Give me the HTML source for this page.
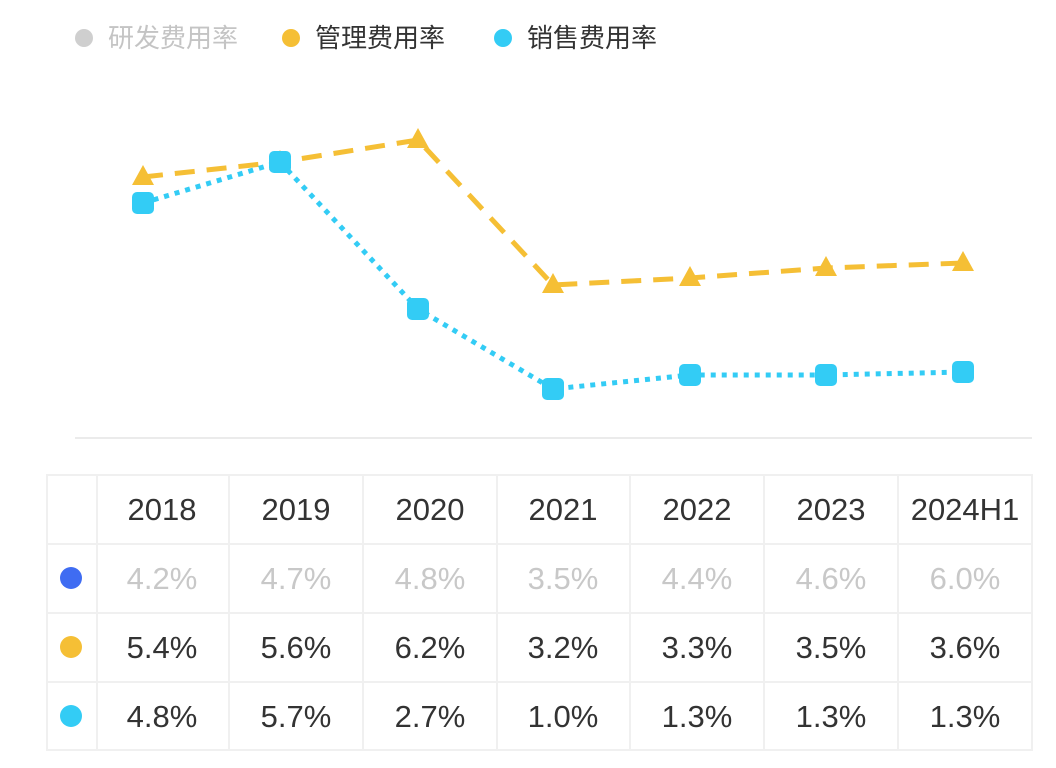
<!DOCTYPE html>
<html><head><meta charset="utf-8"><style>
body{margin:0;background:#fff;width:1056px;height:763px;overflow:hidden}
svg text{font-family:"Liberation Sans","Noto Sans CJK SC",sans-serif}
</style></head><body>
<svg width="1056" height="763" xmlns="http://www.w3.org/2000/svg">
<g font-size="26">
<circle cx="84" cy="38" r="9" fill="#cfcfcf"/><text x="108" y="47" fill="#c4c4c4">研发费用率</text>
<circle cx="291" cy="38" r="9" fill="#f5bf35"/><text x="315" y="47" fill="#333">管理费用率</text>
<circle cx="503" cy="38" r="9" fill="#33ccf5"/><text x="527" y="47" fill="#333">销售费用率</text>
</g>
<line x1="75" y1="438" x2="1032" y2="438" stroke="#ebebeb" stroke-width="2"/>
<polyline points="143,177 280,162 418,140 553,285 690,278 826,268 963,263" fill="none" stroke="#f5bf35" stroke-width="5" stroke-dasharray="20,12"/>
<polyline points="143,203 280,162 418,309 553,389 690,375 826,375 963,372" fill="none" stroke="#33ccf5" stroke-width="5" stroke-dasharray="5,6"/>
<g fill="#f5bf35">
<polygon points="143,165 132,185 154,185"/><polygon points="280,150 269,170 291,170"/><polygon points="418,128 407,148 429,148"/><polygon points="553,273 542,293 564,293"/><polygon points="690,266 679,286 701,286"/><polygon points="826,256 815,276 837,276"/><polygon points="963,251 952,271 974,271"/>
</g>
<g fill="#33ccf5">
<rect x="132" y="192" width="22" height="22" rx="5"/><rect x="269" y="151" width="22" height="22" rx="5"/><rect x="407" y="298" width="22" height="22" rx="5"/><rect x="542" y="378" width="22" height="22" rx="5"/><rect x="679" y="364" width="22" height="22" rx="5"/><rect x="815" y="364" width="22" height="22" rx="5"/><rect x="952" y="361" width="22" height="22" rx="5"/>
</g>
<g stroke="#f0f0f0" stroke-width="2" fill="none">
<rect x="47" y="475" width="985" height="275"/>
<line x1="47" y1="544" x2="1032" y2="544"/><line x1="47" y1="613" x2="1032" y2="613"/><line x1="47" y1="682" x2="1032" y2="682"/>
<line x1="97" y1="475" x2="97" y2="750"/><line x1="229" y1="475" x2="229" y2="750"/><line x1="363" y1="475" x2="363" y2="750"/><line x1="497" y1="475" x2="497" y2="750"/><line x1="630" y1="475" x2="630" y2="750"/><line x1="764" y1="475" x2="764" y2="750"/><line x1="898" y1="475" x2="898" y2="750"/>
</g>
<circle cx="71" cy="578" r="11" fill="#3f6cf2"/><circle cx="71" cy="647" r="11" fill="#f5bf35"/><circle cx="71" cy="716" r="11" fill="#33ccf5"/>
<g font-size="31" text-anchor="middle" fill="#333">
<text x="162" y="520">2018</text><text x="296" y="520">2019</text><text x="430" y="520">2020</text><text x="563" y="520">2021</text><text x="697" y="520">2022</text><text x="831" y="520">2023</text><text x="965" y="520">2024H1</text>
<g fill="#c8c8c8"><text x="162" y="589">4.2%</text><text x="296" y="589">4.7%</text><text x="430" y="589">4.8%</text><text x="563" y="589">3.5%</text><text x="697" y="589">4.4%</text><text x="831" y="589">4.6%</text><text x="965" y="589">6.0%</text></g>
<text x="162" y="658">5.4%</text><text x="296" y="658">5.6%</text><text x="430" y="658">6.2%</text><text x="563" y="658">3.2%</text><text x="697" y="658">3.3%</text><text x="831" y="658">3.5%</text><text x="965" y="658">3.6%</text>
<text x="162" y="727">4.8%</text><text x="296" y="727">5.7%</text><text x="430" y="727">2.7%</text><text x="563" y="727">1.0%</text><text x="697" y="727">1.3%</text><text x="831" y="727">1.3%</text><text x="965" y="727">1.3%</text>
</g>
</svg>
</body></html>
